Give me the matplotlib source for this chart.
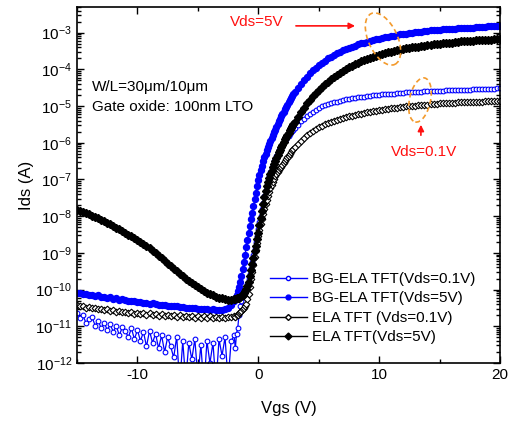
import numpy as np
import matplotlib
matplotlib.use("Agg")
import matplotlib.pyplot as plt
from matplotlib.patches import Ellipse
from matplotlib.transforms import IdentityTransform
from matplotlib.lines import Line2D
from matplotlib.ticker import LogLocator, MultipleLocator, NullFormatter

plt.rcParams['font.family'] = ['Liberation Sans', 'DejaVu Sans']
plt.rcParams['mathtext.default'] = 'regular'
plt.rcParams['axes.unicode_minus'] = False

# Gate sweep (V): 0.25 V steps, 0.1 V steps through the turn-on region
vgs = np.concatenate([np.linspace(-15, -2.25, 52),
                      np.linspace(-2, 3, 51),
                      np.linspace(3.25, 20, 68)])

# log10(Ids / A) for each curve
ela_5v = [
    # -15 .. -2.25 (0.25 V)
    -7.82, -7.85, -7.88, -7.92,
    -7.95, -7.99, -8.02, -8.06,
    -8.10, -8.14, -8.18, -8.22,
    -8.27, -8.31, -8.36, -8.40,
    -8.45, -8.50, -8.55, -8.60,
    -8.65, -8.71, -8.76, -8.82,
    -8.88, -8.95, -9.01, -9.08,
    -9.15, -9.22, -9.29, -9.36,
    -9.43, -9.50, -9.57, -9.63,
    -9.70, -9.76, -9.82, -9.88,
    -9.93, -9.98, -10.03, -10.08,
    -10.12, -10.16, -10.19, -10.22,
    -10.24, -10.26, -10.27, -10.27,
    # -2 .. 3 (0.1 V)
    -10.26, -10.25, -10.24, -10.23, -10.22, -10.20, -10.17, -10.14, -10.10, -10.05,
    -9.98, -9.89, -9.78, -9.64, -9.47, -9.30, -9.13, -8.96, -8.80, -8.63,
    -8.46, -8.25, -8.05, -7.85, -7.66, -7.48, -7.32, -7.18, -7.07, -6.96,
    -6.86, -6.76, -6.66, -6.58, -6.50, -6.42, -6.34, -6.26, -6.19, -6.12,
    -6.05, -5.98, -5.91, -5.85, -5.79, -5.73, -5.66, -5.60, -5.54, -5.49,
    -5.43,
    # 3.25 .. 20 (0.25 V)
    -5.29, -5.16, -5.04,
    -4.93, -4.83, -4.73, -4.64,
    -4.56, -4.48, -4.41, -4.34,
    -4.27, -4.21, -4.15, -4.09,
    -4.04, -3.99, -3.94, -3.90,
    -3.86, -3.82, -3.78, -3.75,
    -3.72, -3.69, -3.66, -3.63,
    -3.61, -3.58, -3.56, -3.54,
    -3.52, -3.50, -3.48, -3.46,
    -3.45, -3.43, -3.42, -3.40,
    -3.39, -3.38, -3.36, -3.35,
    -3.34, -3.33, -3.32, -3.31,
    -3.30, -3.29, -3.28, -3.27,
    -3.27, -3.26, -3.25, -3.24,
    -3.24, -3.23, -3.22, -3.22,
    -3.21, -3.21, -3.20, -3.20,
    -3.19, -3.19, -3.18, -3.18,
    -3.17,
]

bg_5v = [
    -10.10, -10.08, -10.13, -10.11,
    -10.15, -10.14, -10.17, -10.16,
    -10.20, -10.19, -10.22, -10.21,
    -10.25, -10.24, -10.27, -10.26,
    -10.29, -10.30, -10.32, -10.31,
    -10.34, -10.33, -10.36, -10.37,
    -10.38, -10.37, -10.40, -10.41,
    -10.42, -10.41, -10.44, -10.45,
    -10.46, -10.45, -10.48, -10.47,
    -10.49, -10.50, -10.51, -10.50,
    -10.52, -10.53, -10.52, -10.54,
    -10.55, -10.54, -10.56, -10.55,
    -10.56, -10.54, -10.50, -10.42,
    -10.30, -10.23, -10.14, -10.05, -9.93, -9.80, -9.63, -9.45, -9.25, -9.05,
    -8.85, -8.65, -8.45, -8.26, -8.08, -7.90, -7.72, -7.54, -7.36, -7.18,
    -7.01, -6.87, -6.74, -6.62, -6.51, -6.40, -6.30, -6.21, -6.12, -6.03,
    -5.95, -5.87, -5.79, -5.71, -5.64, -5.56, -5.49, -5.42, -5.35, -5.28,
    -5.21, -5.15, -5.08, -5.02, -4.96, -4.90, -4.84, -4.79, -4.73, -4.68,
    -4.63,
    -4.51, -4.40, -4.29,
    -4.20, -4.11, -4.03, -3.95,
    -3.88, -3.82, -3.76, -3.70,
    -3.65, -3.60, -3.56, -3.52,
    -3.48, -3.44, -3.41, -3.38,
    -3.35, -3.32, -3.29, -3.27,
    -3.25, -3.22, -3.20, -3.18,
    -3.16, -3.14, -3.13, -3.11,
    -3.10, -3.08, -3.07, -3.05,
    -3.04, -3.03, -3.02, -3.00,
    -2.99, -2.98, -2.97, -2.96,
    -2.95, -2.94, -2.94, -2.93,
    -2.92, -2.91, -2.91, -2.90,
    -2.89, -2.89, -2.88, -2.88,
    -2.87, -2.87, -2.86, -2.86,
    -2.85, -2.85, -2.84, -2.84,
    -2.83, -2.83, -2.83, -2.82,
    -2.82,
]

ela_01v = [
    -10.42, -10.46, -10.44, -10.49,
    -10.47, -10.51, -10.49, -10.54,
    -10.52, -10.56, -10.54, -10.58,
    -10.56, -10.60, -10.58, -10.62,
    -10.60, -10.64, -10.61, -10.66,
    -10.63, -10.67, -10.64, -10.69,
    -10.65, -10.70, -10.66, -10.71,
    -10.67, -10.72, -10.68, -10.73,
    -10.69, -10.74, -10.70, -10.75,
    -10.71, -10.76, -10.72, -10.77,
    -10.72, -10.77, -10.73, -10.78,
    -10.73, -10.78, -10.74, -10.78,
    -10.74, -10.77, -10.74, -10.76,
    -10.72, -10.74, -10.70, -10.69, -10.65, -10.62, -10.58, -10.54, -10.49, -10.44,
    -10.38, -10.26, -10.11, -9.92, -9.72, -9.52, -9.32, -9.12, -8.92, -8.73,
    -8.55, -8.38, -8.22, -8.08, -7.94, -7.80, -7.67, -7.55, -7.44, -7.34,
    -7.24, -7.15, -7.06, -6.98, -6.91, -6.85, -6.80, -6.75, -6.70, -6.65,
    -6.60, -6.55, -6.50, -6.45, -6.40, -6.35, -6.30, -6.25, -6.21, -6.16,
    -6.12,
    -6.03, -5.95, -5.87,
    -5.80, -5.74, -5.68, -5.63,
    -5.58, -5.54, -5.50, -5.46,
    -5.43, -5.40, -5.37, -5.35,
    -5.33, -5.30, -5.28, -5.26,
    -5.24, -5.22, -5.21, -5.19,
    -5.17, -5.16, -5.14, -5.13,
    -5.11, -5.10, -5.09, -5.07,
    -5.06, -5.05, -5.04, -5.03,
    -5.02, -5.01, -5.00, -4.99,
    -4.99, -4.98, -4.97, -4.96,
    -4.96, -4.95, -4.94, -4.94,
    -4.93, -4.93, -4.92, -4.92,
    -4.91, -4.91, -4.90, -4.90,
    -4.90, -4.89, -4.89, -4.89,
    -4.88, -4.88, -4.88, -4.87,
    -4.87, -4.87, -4.86, -4.86,
    -4.86,
]

bg_01v = [
    -10.65, -10.78, -10.70, -10.92,
    -10.80, -10.75, -10.98, -10.85,
    -11.05, -10.90, -11.10, -10.95,
    -11.15, -10.98, -11.25, -11.02,
    -11.12, -11.30, -11.05, -11.35,
    -11.10, -11.40, -11.15, -11.55,
    -11.12, -11.45, -11.20, -11.60,
    -11.25, -11.70, -11.30, -11.55,
    -11.85, -11.28, -12.60, -11.40,
    -12.50, -11.45, -11.90, -11.35,
    -12.40, -11.50, -12.70, -11.40,
    -12.00, -11.45, -12.60, -11.35,
    -11.80, -11.30, -12.50, -11.40,
    -11.25, -11.60, -11.20, -11.05, -10.70, -10.45, -10.30, -10.20, -10.11, -10.03,
    -9.95, -9.84, -9.72, -9.58, -9.42, -9.25, -9.07, -8.89, -8.71, -8.53,
    -8.35, -8.17, -7.99, -7.81, -7.63, -7.45, -7.30, -7.16, -7.03, -6.91,
    -6.80, -6.70, -6.60, -6.51, -6.43, -6.35, -6.28, -6.21, -6.15, -6.09,
    -6.04, -5.99, -5.94, -5.90, -5.85, -5.81, -5.77, -5.72, -5.68, -5.64,
    -5.60,
    -5.51, -5.42, -5.34,
    -5.27, -5.21, -5.15, -5.10,
    -5.05, -5.01, -4.98, -4.95,
    -4.92, -4.90, -4.88, -4.86,
    -4.84, -4.82, -4.80, -4.79,
    -4.77, -4.76, -4.75, -4.74,
    -4.73, -4.72, -4.71, -4.70,
    -4.69, -4.68, -4.68, -4.67,
    -4.66, -4.66, -4.65, -4.64,
    -4.64, -4.63, -4.63, -4.62,
    -4.62, -4.61, -4.61, -4.60,
    -4.60, -4.59, -4.59, -4.58,
    -4.58, -4.58, -4.57, -4.57,
    -4.57, -4.56, -4.56, -4.56,
    -4.55, -4.55, -4.55, -4.54,
    -4.54, -4.54, -4.54, -4.53,
    -4.53, -4.53, -4.53, -4.52,
    -4.52,
]

labels = ["BG-ELA TFT(Vds=0.1V)", "BG-ELA TFT(Vds=5V)",
          "ELA TFT (Vds=0.1V)", "ELA TFT(Vds=5V)"]

for s in (ela_5v, bg_5v, ela_01v, bg_01v):
    assert len(s) == len(vgs), len(s)

fig = plt.figure(figsize=(5.11, 4.21), dpi=100)
ax = fig.add_axes([77 / 511, 58 / 421, 423 / 511, 356 / 421])

BLUE = '#0000ff'
ax.plot(vgs, 10.0 ** np.array(bg_01v), color=BLUE, lw=0.9, marker='o', ms=3.4,
        mfc='white', mec=BLUE, mew=0.8)
ax.plot(vgs, 10.0 ** np.array(bg_5v), color=BLUE, lw=0.9, marker='o', ms=4.3,
        mfc=BLUE, mec=BLUE)
ax.plot(vgs, 10.0 ** np.array(ela_01v), color='black', lw=0.9, marker='D', ms=3.4,
        mfc='white', mec='black', mew=0.8)
ax.plot(vgs, 10.0 ** np.array(ela_5v), color='black', lw=0.9, marker='D', ms=4.3,
        mfc='black', mec='black')

ax.set_yscale('log')
ax.set_xlim(-15, 20)
ax.set_ylim(1e-12, 5e-3)
ax.xaxis.set_major_locator(MultipleLocator(10))
ax.xaxis.set_minor_locator(MultipleLocator(5))
ax.yaxis.set_major_locator(LogLocator(base=10, numticks=20))
ax.yaxis.set_minor_locator(LogLocator(base=10, subs=np.arange(2, 10), numticks=20))
ax.yaxis.set_minor_formatter(NullFormatter())
ax.tick_params(which='both', direction='in', top=True, right=True, labelsize=11,
               width=1)
ax.tick_params(which='major', length=5)
ax.tick_params(which='minor', length=3)
for sp in ax.spines.values():
    sp.set_linewidth(1.2)

ax.set_xlabel('Vgs (V)', fontsize=12, labelpad=14)
ax.set_ylabel('Ids (A)', fontsize=12, labelpad=1)

ax.text(0.035, 0.775, 'W/L=30\u03bcm/10\u03bcm', transform=ax.transAxes,
        fontsize=11, va='center', ha='left')
ax.text(0.035, 0.718, 'Gate oxide: 100nm LTO', transform=ax.transAxes,
        fontsize=11, va='center', ha='left')

RED = '#ff1010'
ax.text(0.4255, 0.958, 'Vds=5V', transform=ax.transAxes, color=RED,
        fontsize=11, ha='center', va='center')
ax.annotate('', xy=(0.664, 0.947), xytext=(0.511, 0.947), xycoords='axes fraction',
            arrowprops=dict(arrowstyle='-|>', color=RED, lw=1.2, mutation_scale=9))
ax.text(0.82, 0.593, 'Vds=0.1V', transform=ax.transAxes, color=RED,
        fontsize=11, ha='center', va='center')
ax.annotate('', xy=(0.813, 0.677), xytext=(0.813, 0.632), xycoords='axes fraction',
            arrowprops=dict(arrowstyle='-|>', color=RED, lw=1.2, mutation_scale=9))

ORANGE = '#f39a2c'
H = 421
e1 = Ellipse((383, H - 39), 29, 56, angle=25, fill=False, ec=ORANGE, lw=1.2,
             ls=(0, (3, 2)), transform=IdentityTransform())
e2 = Ellipse((420, H - 100), 21, 45, angle=-12, fill=False, ec=ORANGE, lw=1.2,
             ls=(0, (3, 2)), transform=IdentityTransform())
fig.patches.extend([e1, e2])

handles = [
    Line2D([], [], color=BLUE, lw=1, marker='o', ms=3, mfc='white', mec=BLUE),
    Line2D([], [], color=BLUE, lw=1, marker='o', ms=3.5, mfc=BLUE, mec=BLUE),
    Line2D([], [], color='black', lw=1, marker='D', ms=3, mfc='white', mec='black'),
    Line2D([], [], color='black', lw=1, marker='D', ms=3.5, mfc='black', mec='black'),
]
ax.legend(handles, labels, loc='lower left', bbox_to_anchor=(0.456, 0.052),
          frameon=False, fontsize=11, handlelength=2.4, handletextpad=0.35,
          labelspacing=0.36, borderpad=0, borderaxespad=0)

fig.savefig('out.png', dpi=100)
